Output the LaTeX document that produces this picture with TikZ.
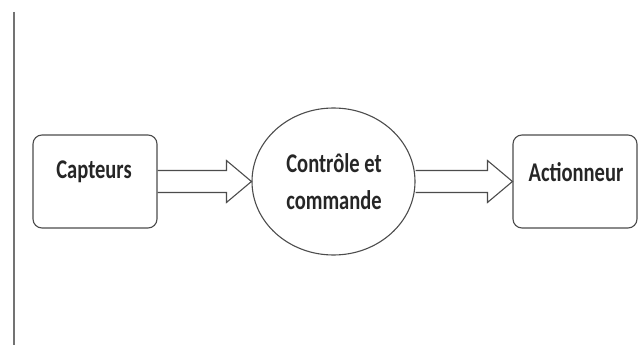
\documentclass[tikz,border=0pt]{standalone}
\usepackage{fontspec}
\usepackage{graphicx}
\setmainfont{Carlito}
\usetikzlibrary{shapes.geometric,calc}
\tikzset{
  x=1pt,y=-1pt,
  edge/.style={draw=black!70,line width=1.1pt},
  block/.style={edge,rounded corners=9pt,minimum width=124pt,minimum height=93pt,inner sep=0pt},
  oval/.style={edge,ellipse,minimum width=163pt,minimum height=147pt,inner sep=0pt},
  lbl/.style={font=\bfseries\fontsize{27}{27}\selectfont,inner sep=0pt,text=black!85},
  bigarrow/.style={edge,line join=miter}
}
\newcommand{\narrow}[1]{\scalebox{0.76}[1]{#1}}
\begin{document}
\begin{tikzpicture}
\useasboundingbox (0,0) rectangle (638,345);
\fill[white] (0,0) rectangle (638,345);
% left margin rule
\draw[draw=black!55,line width=1.4pt] (14,12) -- (14,345);
% blocks
\node[block] (cap) at (95,181.5) {};
\node[oval] (cc) at (333.5,181.5) {};
\node[block] (act) at (575,181.5) {};
% labels
\node[lbl] (capt) at (94,172) {\narrow{Capteurs}};
\node[lbl] (cct1) at (334,163) {\narrow{Contrôle et}};
\node[lbl] (cct2) at (334,200) {\narrow{commande}};
\node[lbl] (actt) at (576,172) {\narrow{Actionneur}};
% hollow block arrows
\draw[bigarrow] ($(cap.east)+(0,-11)$) -- ($(cc.west)+(-25,-11)$) -- ($(cc.west)+(-25,-21)$)
  -- (cc.west) -- ($(cc.west)+(-25,21)$) -- ($(cc.west)+(-25,11)$) -- ($(cap.east)+(0,11)$);
\draw[bigarrow] ($(cc.east)+(0,-11)$) -- ($(act.west)+(-25,-11)$) -- ($(act.west)+(-25,-21)$)
  -- (act.west) -- ($(act.west)+(-25,21)$) -- ($(act.west)+(-25,11)$) -- ($(cc.east)+(0,11)$);
\end{tikzpicture}
\end{document}
